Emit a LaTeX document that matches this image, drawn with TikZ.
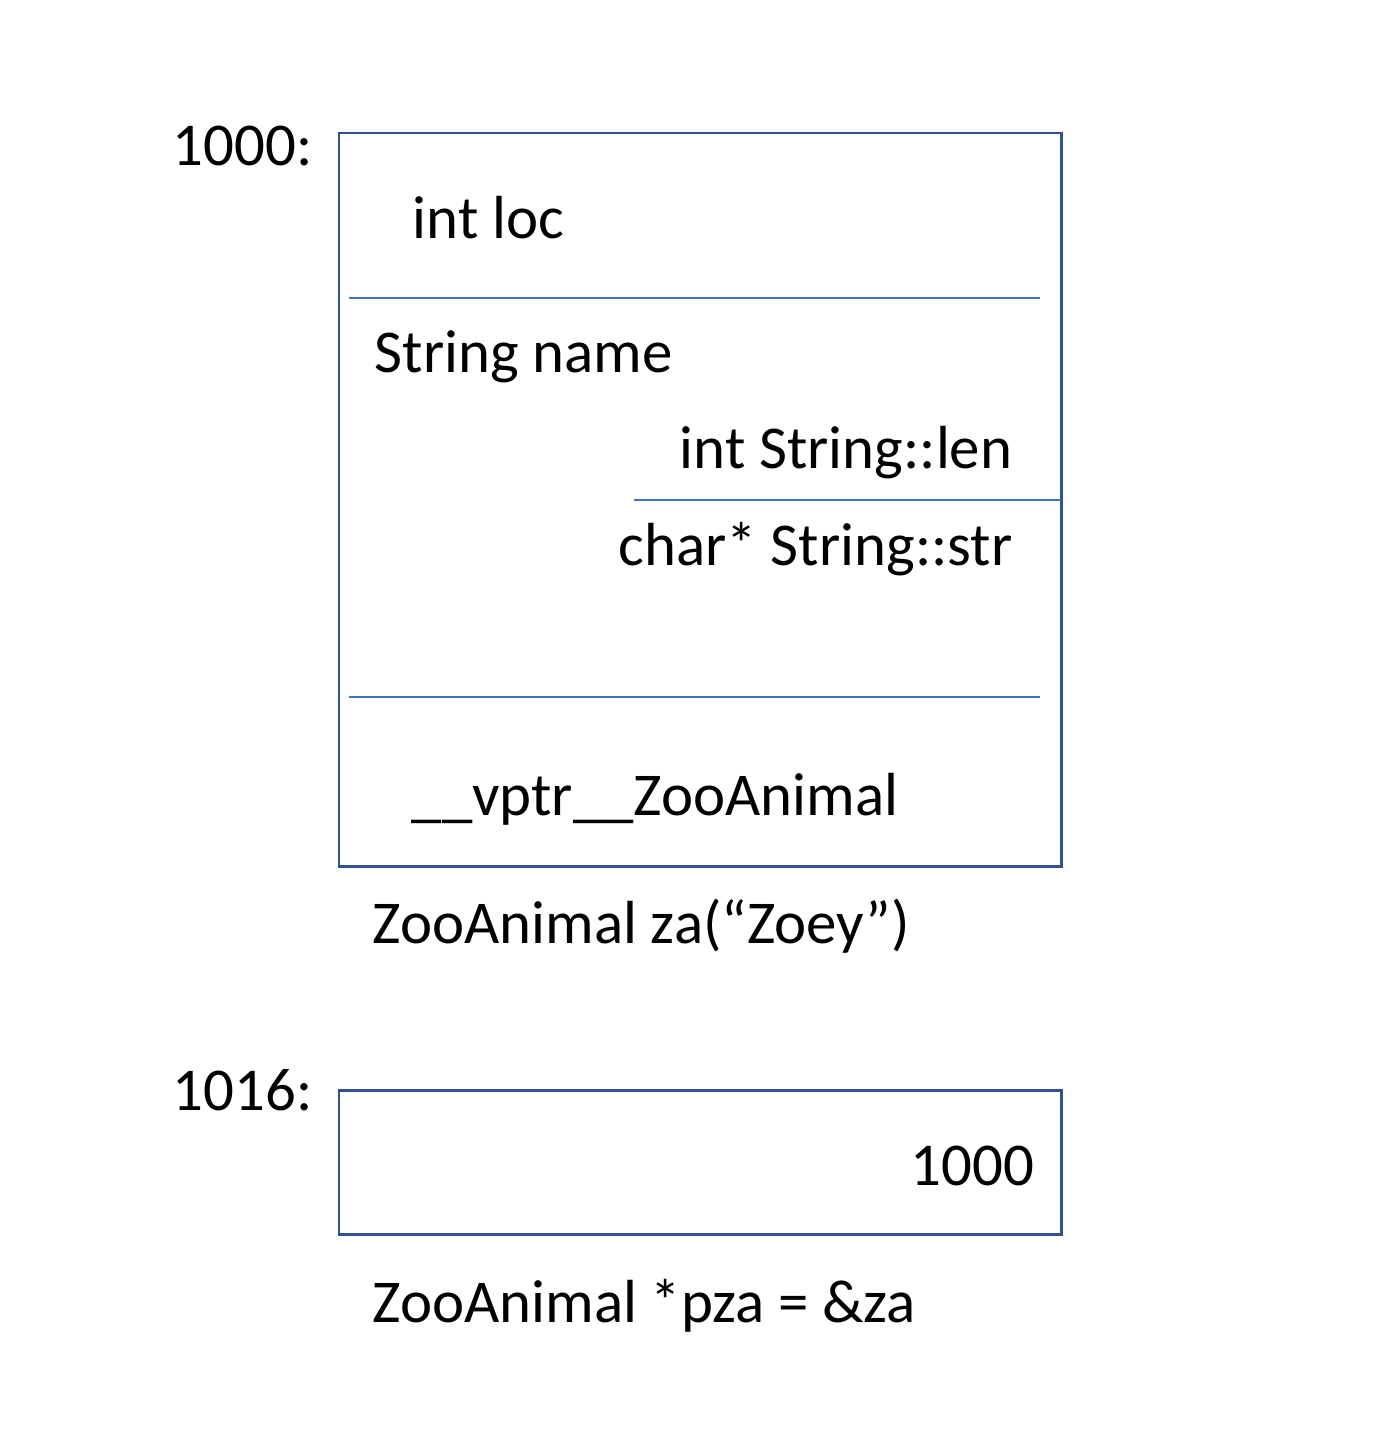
\documentclass[tikz,border=0pt]{standalone}
\usepackage{fontspec}
\setmainfont{Carlito}
\definecolor{boxblue}{HTML}{2F528F}
\definecolor{lineblue}{HTML}{4472C4}
\tikzset{
  membox/.style={draw=boxblue, line width=0.85pt},
  sepline/.style={draw=lineblue, line width=0.6pt},
  field/.style={inner sep=0pt, font=\fontsize{17.3}{20}\selectfont},
}
\begin{document}
\begin{tikzpicture}[x=0.01cm, y=-0.01cm]
\useasboundingbox (0,0) rectangle (1395,1451);
% object za
\draw[membox] (339,133) rectangle (1061,866);
\draw[sepline] (349,298) -- (1040,298);
\draw[sepline] (634,500) -- (1061,500);
\draw[sepline] (349,697) -- (1040,697);
\node[field, anchor=base west] (addrza) at (172,165) {1000:};
\node[field, anchor=base west] (loc) at (412,238) {int loc};
\node[field, anchor=base west] (name) at (374,372) {String name};
\node[field, anchor=base east] (len) at (1013,468) {int String::len};
\node[field, anchor=base east] (str) at (1013,565) {char* String::str};
\node[field, anchor=base west] (vptr) at (411,815) {\_\_vptr\_\_ZooAnimal};
\node[field, anchor=base west] (za) at (372,943) {ZooAnimal za(“Zoey”)};
% pointer pza
\draw[membox] (339,1090) rectangle (1061,1234);
\node[field, anchor=base west] (addrpza) at (172,1110) {1016:};
\node[field, anchor=base east] (val) at (1035,1185) {1000};
\node[field, anchor=base west] (pza) at (372,1322) {ZooAnimal *pza = \&za};
\end{tikzpicture}
\end{document}
